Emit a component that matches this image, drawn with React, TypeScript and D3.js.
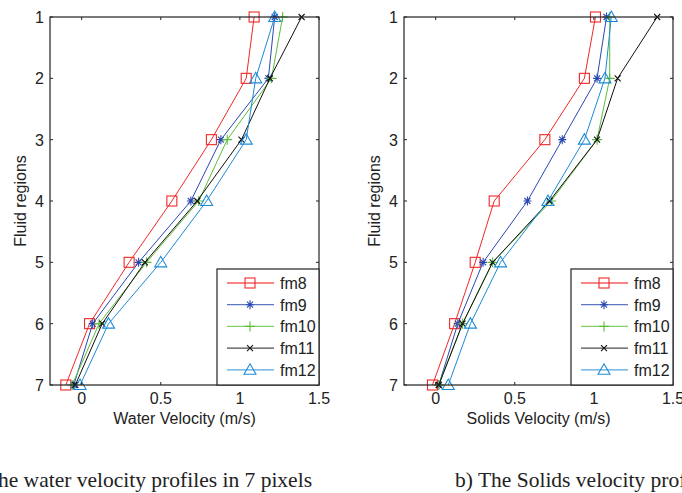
import React from 'react';
import * as d3 from 'd3';

// fluid regions (y) and velocity ticks (x)
const regions = [1, 2, 3, 4, 5, 6, 7];
const xTicks = [0, 0.5, 1, 1.5];
const seriesNames = ['fm8', 'fm9', 'fm10', 'fm11', 'fm12'];

// a) water velocity, m/s, one value per region
const waterFm8 = [1.09, 1.04, 0.82, 0.57, 0.30, 0.05, -0.10];
const waterFm9 = [1.22, 1.18, 0.88, 0.69, 0.36, 0.07, -0.05];
const waterFm10 = [1.27, 1.20, 0.92, 0.74, 0.41, 0.11, -0.06];
const waterFm11 = [1.39, 1.19, 1.01, 0.73, 0.40, 0.13, -0.04];
const waterFm12 = [1.22, 1.10, 1.04, 0.79, 0.50, 0.17, -0.01];

// b) solids velocity, m/s
const solidsFm8 = [1.01, 0.94, 0.69, 0.37, 0.25, 0.12, -0.02];
const solidsFm9 = [1.08, 1.02, 0.80, 0.58, 0.30, 0.14, 0.02];
const solidsFm10 = [1.10, 1.10, 1.02, 0.73, 0.36, 0.17, 0.02];
const solidsFm11 = [1.40, 1.15, 1.02, 0.72, 0.36, 0.17, 0.02];
const solidsFm12 = [1.11, 1.07, 0.94, 0.71, 0.41, 0.22, 0.08];

const colors = ['#f02828', '#2a48b0', '#5cbd3a', '#111111', '#1c8ad6'];
const markers = ['square', 'star', 'plus', 'cross', 'triangle'];

const FONT = 'Liberation Sans, Arial, sans-serif';
const SERIF = 'Liberation Serif, Times New Roman, serif';

function Marker({ type, x, y, color }) {
  const s = 5;
  if (type === 'square')
    return <rect x={x - s} y={y - s} width={2 * s} height={2 * s} fill="none" stroke={color} strokeWidth={1.1} />;
  if (type === 'triangle') {
    const h = 6;
    return <path d={`M${x},${y - h}L${x + h},${y + h * 0.75}L${x - h},${y + h * 0.75}Z`} fill="none" stroke={color} strokeWidth={1.1} />;
  }
  if (type === 'plus')
    return <path d={`M${x - 5},${y}H${x + 5}M${x},${y - 5}V${y + 5}`} stroke={color} strokeWidth={1.1} />;
  if (type === 'cross')
    return <path d={`M${x - 3},${y - 3}L${x + 3},${y + 3}M${x - 3},${y + 3}L${x + 3},${y - 3}`} stroke={color} strokeWidth={1.1} />;
  // star = plus + cross
  return (
    <path
      d={`M${x - 4},${y}H${x + 4}M${x},${y - 4.5}V${y + 4.5}M${x - 3},${y - 3}L${x + 3},${y + 3}M${x - 3},${y + 3}L${x + 3},${y - 3}`}
      stroke={color}
      strokeWidth={1.1}
    />
  );
}

function Panel({ left, series, xLabel }) {
  const top = 17, bottom = 385, w = 269;
  const x = d3.scaleLinear().domain([-0.2, 1.5]).range([left, left + w]);
  const y = d3.scaleLinear().domain([1, 7]).range([top, bottom]);
  const line = d3.line<number>().x(d => x(d)).y((d, i) => y(regions[i]));
  const lx = left + 167, ly = 269, lw = 102;

  return (
    <g>
      {series.map((vals, si) => (
        <g key={si}>
          <path d={line(vals) || ''} fill="none" stroke={colors[si]} strokeWidth={1} />
          {vals.map((v, i) => (
            <Marker key={i} type={markers[si]} x={x(v)} y={y(regions[i])} color={colors[si]} />
          ))}
        </g>
      ))}
      <rect x={left} y={top} width={w} height={bottom - top} fill="none" stroke="#222" strokeWidth={1.2} />
      {xTicks.map(t => (
        <g key={t}>
          <line x1={x(t)} x2={x(t)} y1={top} y2={top + 3} stroke="#222" />
          <line x1={x(t)} x2={x(t)} y1={bottom} y2={bottom - 3} stroke="#222" />
          <text x={x(t)} y={bottom + 19} textAnchor="middle" fontSize={16} fontFamily={FONT} fill="#222">{t}</text>
        </g>
      ))}
      {regions.map(r => (
        <g key={r}>
          <line x1={left} x2={left + 3} y1={y(r)} y2={y(r)} stroke="#222" />
          <line x1={left + w} x2={left + w - 3} y1={y(r)} y2={y(r)} stroke="#222" />
          <text x={left - 6} y={y(r) + 6} textAnchor="end" fontSize={16} fontFamily={FONT} fill="#222">{r}</text>
        </g>
      ))}
      <text x={left + w / 2} y={424} textAnchor="middle" fontSize={16} fontFamily={FONT} fill="#222">{xLabel}</text>
      <text transform={`translate(${left - 24},${(top + bottom) / 2}) rotate(-90)`} textAnchor="middle" fontSize={16} fontFamily={FONT} fill="#222">
        Fluid regions
      </text>
      <rect x={lx} y={ly} width={lw} height={bottom - ly} fill="#fff" stroke="#222" strokeWidth={1.2} />
      {seriesNames.map((n, si) => {
        const yy = ly + 14 + si * 21.7;
        return (
          <g key={n}>
            <line x1={lx + 10} x2={lx + 57} y1={yy} y2={yy} stroke={colors[si]} strokeOpacity={0.75} strokeWidth={1.3} />
            <Marker type={markers[si]} x={lx + 33} y={yy} color={colors[si]} />
            <text x={lx + 63} y={yy + 6} fontSize={16} fontFamily={FONT} fill="#222">{n}</text>
          </g>
        );
      })}
    </g>
  );
}

export default function App() {
  return (
    <svg width={682} height={493} style={{ position: 'absolute', left: 0, top: 0, background: '#fff' }}>
      <rect width={682} height={493} fill="#fff" />
      <Panel left={50} series={[waterFm8, waterFm9, waterFm10, waterFm11, waterFm12]} xLabel="Water Velocity (m/s)" />
      <Panel left={404} series={[solidsFm8, solidsFm9, solidsFm10, solidsFm11, solidsFm12]} xLabel="Solids Velocity (m/s)" />
      <text x={312} y={487} textAnchor="end" fontSize={21.5} fontFamily={SERIF} fill="#222">
        a) The water velocity profiles in 7 pixels
      </text>
      <text x={455} y={487} fontSize={21.5} fontFamily={SERIF} fill="#222">
        b) The Solids velocity profiles in 7 pixels
      </text>
    </svg>
  );
}
